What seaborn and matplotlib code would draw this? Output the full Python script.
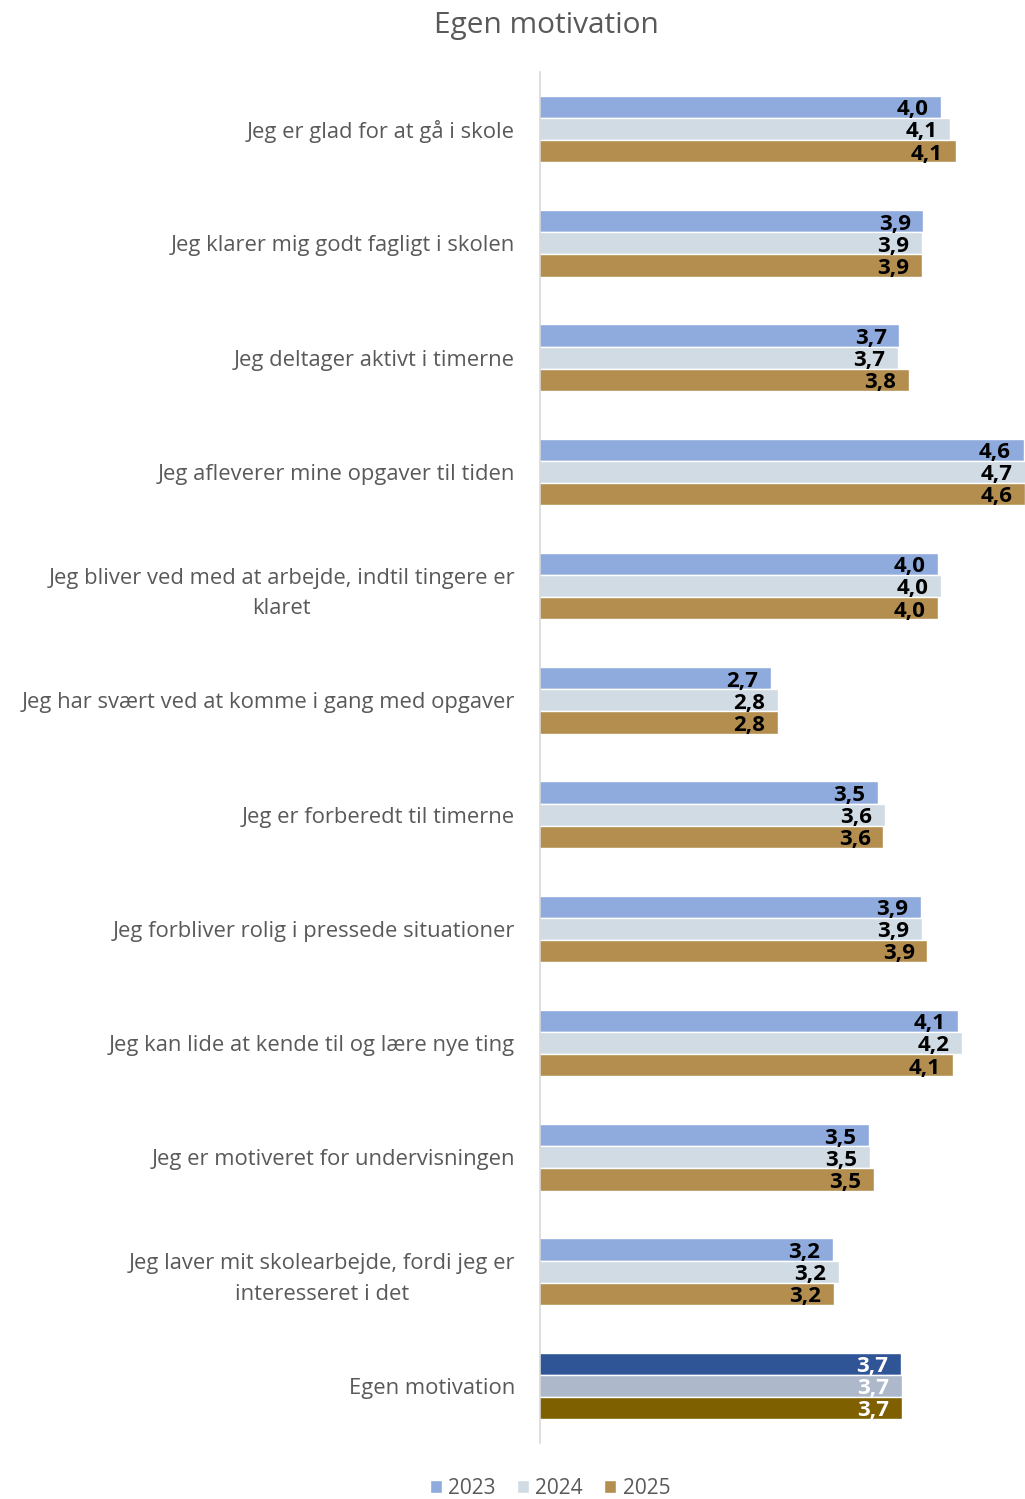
import matplotlib
matplotlib.use("Agg")
import matplotlib.pyplot as plt
import seaborn as sns
import pandas as pd

# Data
categories = [
    "Jeg er glad for at gå i skole",
    "Jeg klarer mig godt fagligt i skolen",
    "Jeg deltager aktivt i timerne",
    "Jeg afleverer mine opgaver til tiden",
    "Jeg bliver ved med at arbejde, indtil tingere er\nklaret",
    "Jeg har svært ved at komme i gang med opgaver",
    "Jeg er forberedt til timerne",
    "Jeg forbliver rolig i pressede situationer",
    "Jeg kan lide at kende til og lære nye ting",
    "Jeg er motiveret for undervisningen",
    "Jeg laver mit skolearbejde, fordi jeg er\ninteresseret i det",
    "Egen motivation",
]
years = ["2023", "2024", "2025"]
values_2023 = [4.00, 3.87, 3.69, 4.62, 3.98, 2.73, 3.53, 3.85, 4.13, 3.46, 3.19, 3.70]
values_2024 = [4.07, 3.86, 3.68, 4.66, 4.00, 2.78, 3.58, 3.86, 4.16, 3.47, 3.24, 3.71]
values_2025 = [4.11, 3.86, 3.76, 4.63, 3.98, 2.78, 3.57, 3.90, 4.09, 3.50, 3.20, 3.71]

colors = ["#8faadc", "#d0dbe4", "#b48e4f"]
total_colors = ["#2f5597", "#adb9ca", "#7f6000"]

df = pd.DataFrame({
    "kategori": categories * 3,
    "aar": [y for y in years for _ in categories],
    "vaerdi": values_2023 + values_2024 + values_2025,
})

sns.set_theme(style="white")
plt.rcParams["font.family"] = ["Open Sans", "DejaVu Sans"]

fig = plt.figure(figsize=(10.25, 14.99), dpi=100)
ax = fig.add_axes([540 / 1025, 1 - 1443 / 1499, 485 / 1025, 1371 / 1499])

sns.barplot(data=df, y="kategori", x="vaerdi", hue="aar", order=categories,
            hue_order=years, palette=colors, width=0.58, saturation=1,
            orient="h", ax=ax)

xmax = 4.63
ax.set_xlim(1, xmax)
ax.set_ylim(len(categories) - 0.5, -0.5)

# recolour the total row and add value labels
for i, cont in enumerate(ax.containers):
    cont[len(categories) - 1].set_facecolor(total_colors[i])
    for j, bar in enumerate(cont):
        v = bar.get_width()
        is_total = j == len(categories) - 1
        xpos = min(v, xmax)
        ax.text(xpos - 0.095, bar.get_y() + bar.get_height() / 2 + 0.025,
                f"{v:.1f}".replace(".", ","), ha="right", va="center",
                fontsize=16, fontweight="bold",
                color="white" if is_total else "black")

ax.set_xlabel("")
ax.set_ylabel("")
ax.set_xticks([])
for s in ["top", "right", "bottom"]:
    ax.spines[s].set_visible(False)
ax.spines["left"].set_color("#d9d9d9")
ax.spines["left"].set_linewidth(1.2)
ax.tick_params(axis="y", length=0, pad=18, labelsize=15.8, labelcolor="#595959")
for lab in ax.get_yticklabels():
    lab.set_multialignment("center")
    lab.set_linespacing(1.6)

handles, labels = ax.get_legend_handles_labels()
ax.get_legend().remove()
fig.legend(handles, labels, loc="center", bbox_to_anchor=(550 / 1025, 1 - 1488 / 1499),
           ncol=3, frameon=False, fontsize=15, labelcolor="#595959",
           handlelength=0.6, handleheight=0.6, handletextpad=0.3, columnspacing=1.0)

fig.text(546 / 1025, 1 - 25 / 1499, "Egen motivation", ha="center", va="center",
         fontsize=21.5, color="#595959")

fig.savefig("out.png", dpi=100)
